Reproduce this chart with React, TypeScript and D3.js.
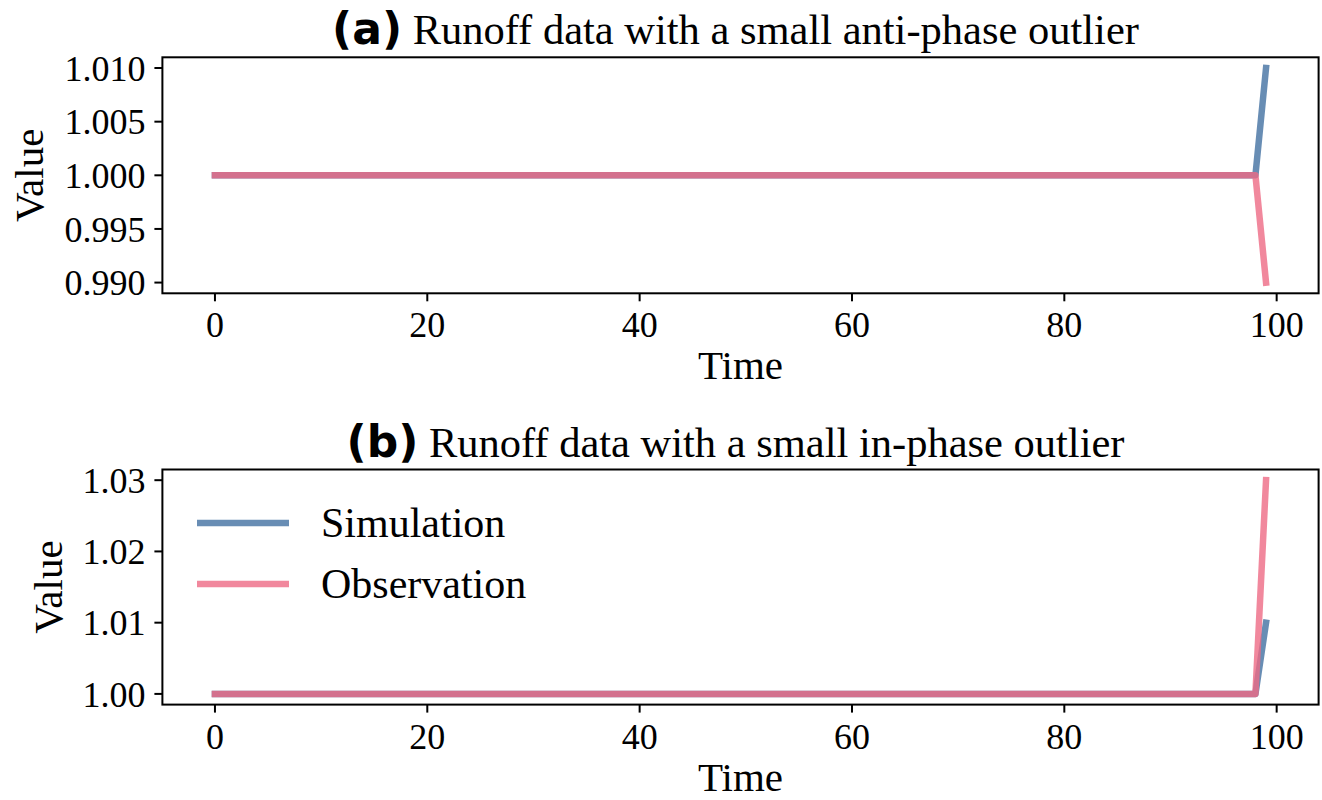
import React from "react";
import * as d3 from "d3";

// ---- data ----
const time: number[] = d3.range(0, 100);
const simA: number[] = [
  1, 1, 1, 1, 1, 1, 1, 1, 1, 1, 1, 1, 1, 1, 1, 1, 1, 1, 1, 1,
  1, 1, 1, 1, 1, 1, 1, 1, 1, 1, 1, 1, 1, 1, 1, 1, 1, 1, 1, 1,
  1, 1, 1, 1, 1, 1, 1, 1, 1, 1, 1, 1, 1, 1, 1, 1, 1, 1, 1, 1,
  1, 1, 1, 1, 1, 1, 1, 1, 1, 1, 1, 1, 1, 1, 1, 1, 1, 1, 1, 1,
  1, 1, 1, 1, 1, 1, 1, 1, 1, 1, 1, 1, 1, 1, 1, 1, 1, 1, 1, 1.01,
];
const obsA: number[] = [
  1, 1, 1, 1, 1, 1, 1, 1, 1, 1, 1, 1, 1, 1, 1, 1, 1, 1, 1, 1,
  1, 1, 1, 1, 1, 1, 1, 1, 1, 1, 1, 1, 1, 1, 1, 1, 1, 1, 1, 1,
  1, 1, 1, 1, 1, 1, 1, 1, 1, 1, 1, 1, 1, 1, 1, 1, 1, 1, 1, 1,
  1, 1, 1, 1, 1, 1, 1, 1, 1, 1, 1, 1, 1, 1, 1, 1, 1, 1, 1, 1,
  1, 1, 1, 1, 1, 1, 1, 1, 1, 1, 1, 1, 1, 1, 1, 1, 1, 1, 1, 0.99,
];
const simB: number[] = [
  1, 1, 1, 1, 1, 1, 1, 1, 1, 1, 1, 1, 1, 1, 1, 1, 1, 1, 1, 1,
  1, 1, 1, 1, 1, 1, 1, 1, 1, 1, 1, 1, 1, 1, 1, 1, 1, 1, 1, 1,
  1, 1, 1, 1, 1, 1, 1, 1, 1, 1, 1, 1, 1, 1, 1, 1, 1, 1, 1, 1,
  1, 1, 1, 1, 1, 1, 1, 1, 1, 1, 1, 1, 1, 1, 1, 1, 1, 1, 1, 1,
  1, 1, 1, 1, 1, 1, 1, 1, 1, 1, 1, 1, 1, 1, 1, 1, 1, 1, 1, 1.01,
];
const obsB: number[] = [
  1, 1, 1, 1, 1, 1, 1, 1, 1, 1, 1, 1, 1, 1, 1, 1, 1, 1, 1, 1,
  1, 1, 1, 1, 1, 1, 1, 1, 1, 1, 1, 1, 1, 1, 1, 1, 1, 1, 1, 1,
  1, 1, 1, 1, 1, 1, 1, 1, 1, 1, 1, 1, 1, 1, 1, 1, 1, 1, 1, 1,
  1, 1, 1, 1, 1, 1, 1, 1, 1, 1, 1, 1, 1, 1, 1, 1, 1, 1, 1, 1,
  1, 1, 1, 1, 1, 1, 1, 1, 1, 1, 1, 1, 1, 1, 1, 1, 1, 1, 1, 1.03,
];
const xTicks: number[] = [0, 20, 40, 60, 80, 100];
const yTicksA: number[] = [0.99, 0.995, 1.0, 1.005, 1.01];
const yTicksB: number[] = [1.0, 1.01, 1.02, 1.03];
const seriesNames: string[] = ["Simulation", "Observation"];
const titlesTag: string[] = ["(a)", "(b)"];
const titlesText: string[] = [
  "Runoff data with a small anti-phase outlier",
  "Runoff data with a small in-phase outlier",
];

const SERIF = "'Liberation Serif', 'Times New Roman', serif";
const SANS = "'DejaVu Sans', sans-serif";
const SIM_COLOR = "#4e79a7";
const SIM_OPACITY = 0.85;
const OBS_COLOR = "#ee6a85";
const OBS_OPACITY = 0.8;
const LW = 6.5;

type PanelProps = {
  top: number;
  bottom: number;
  yDomain: [number, number];
  yTicks: number[];
  yFmt: string;
  sim: number[];
  obs: number[];
  tag: string;
  title: string;
  labelX: number;
  legend?: boolean;
};

function Panel(p: PanelProps) {
  const left = 162.4;
  const right = 1318.6;
  const x = d3.scaleLinear().domain([-4.95, 103.95]).range([left, right]);
  const y = d3.scaleLinear().domain(p.yDomain).range([p.bottom, p.top]);
  const line = d3
    .line<number>()
    .x((_, i) => x(time[i]))
    .y((d) => y(d));
  const fmt = d3.format(p.yFmt);
  const cx = (left + right) / 2;
  const midY = (p.top + p.bottom) / 2;
  return (
    <g>
      <text
        x={cx - 5}
        y={p.top - 13}
        textAnchor="middle"
        fontSize={42.5}
        fontFamily={SERIF}
        fill="#000"
      >
        <tspan fontFamily={SANS} fontWeight="bold" fontSize={44}>
          {p.tag}
        </tspan>
        <tspan> {p.title}</tspan>
      </text>
      <path
        d={line(p.sim) || ""}
        fill="none"
        stroke={SIM_COLOR}
        strokeOpacity={SIM_OPACITY}
        strokeWidth={LW}
        strokeLinecap="square"
        strokeLinejoin="round"
      />
      <path
        d={line(p.obs) || ""}
        fill="none"
        stroke={OBS_COLOR}
        strokeOpacity={OBS_OPACITY}
        strokeWidth={LW}
        strokeLinecap="square"
        strokeLinejoin="round"
      />
      <rect
        x={left}
        y={p.top}
        width={right - left}
        height={p.bottom - p.top}
        fill="none"
        stroke="#000"
        strokeWidth={2}
      />
      {xTicks.map((t) => (
        <g key={"x" + t}>
          <line x1={x(t)} x2={x(t)} y1={p.bottom} y2={p.bottom + 8} stroke="#000" strokeWidth={2} />
          <text
            x={x(t)}
            y={p.bottom + 44}
            textAnchor="middle"
            fontSize={36}
            fontFamily={SERIF}
            fill="#000"
          >
            {t}
          </text>
        </g>
      ))}
      {p.yTicks.map((t) => (
        <g key={"y" + t}>
          <line x1={left - 8} x2={left} y1={y(t)} y2={y(t)} stroke="#000" strokeWidth={2} />
          <text
            x={left - 17}
            y={y(t)}
            dy="0.35em"
            textAnchor="end"
            fontSize={36}
            fontFamily={SERIF}
            fill="#000"
          >
            {fmt(t)}
          </text>
        </g>
      ))}
      <text
        x={cx}
        y={p.bottom + 86}
        textAnchor="middle"
        fontSize={41}
        fontFamily={SERIF}
        fill="#000"
      >
        Time
      </text>
      <text
        transform={`translate(${p.labelX},${midY}) rotate(-90)`}
        textAnchor="middle"
        fontSize={41}
        fontFamily={SERIF}
        fill="#000"
      >
        Value
      </text>
      {p.legend && (
        <g>
          {seriesNames.map((name, i) => (
            <g key={name}>
              <line
                x1={197}
                x2={289}
                y1={523 + i * 61}
                y2={523 + i * 61}
                stroke={i === 0 ? SIM_COLOR : OBS_COLOR}
                strokeOpacity={i === 0 ? SIM_OPACITY : OBS_OPACITY}
                strokeWidth={LW}
              />
              <text
                x={321}
                y={537 + i * 61}
                fontSize={42}
                fontFamily={SERIF}
                fill="#000"
              >
                {name}
              </text>
            </g>
          ))}
        </g>
      )}
    </g>
  );
}

export default function App() {
  return (
    <svg
      width={1322}
      height={800}
      style={{ position: "absolute", left: 0, top: 0, background: "#fff" }}
    >
      <rect width={1322} height={800} fill="#fff" />
      <Panel
        top={57.3}
        bottom={293.3}
        yDomain={[0.989, 1.011]}
        yTicks={yTicksA}
        yFmt=".3f"
        sim={simA}
        obs={obsA}
        tag={titlesTag[0]}
        title={titlesText[0]}
        labelX={43}
      />
      <Panel
        top={469.5}
        bottom={704.6}
        yDomain={[0.9985, 1.0315]}
        yTicks={yTicksB}
        yFmt=".2f"
        sim={simB}
        obs={obsB}
        tag={titlesTag[1]}
        title={titlesText[1]}
        labelX={62}
        legend
      />
    </svg>
  );
}
